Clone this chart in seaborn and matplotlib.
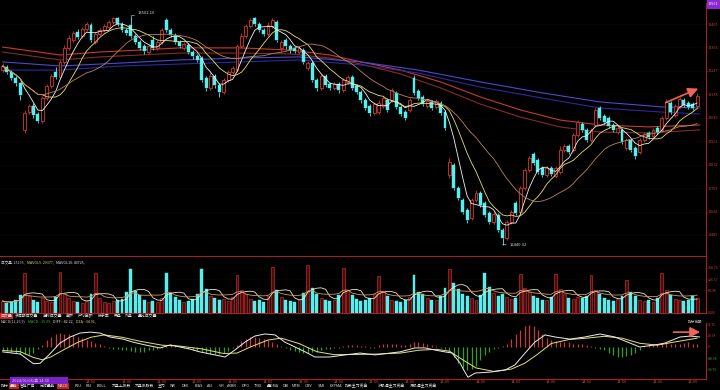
import numpy as np
import pandas as pd
import matplotlib
matplotlib.use("Agg")
import matplotlib.pyplot as plt
from matplotlib.patches import Rectangle
from matplotlib.lines import Line2D
import seaborn as sns

# ---------------- data ----------------
opens = [
    13251, 13265, 13242, 13214, 13191,
    12973, 13056, 13084, 13047, 13014, 13121, 13177, 13242,
    13219, 13289, 13354, 13391, 13428, 13409, 13442, 13460,
    13381, 13419, 13437, 13451, 13474, 13493, 13465, 13437,
    13460, 13409, 13381, 13363, 13335, 13391, 13354, 13381,
    13484, 13437, 13414, 13381, 13354, 13368, 13335, 13316,
    13307, 13214, 13168, 13224, 13182, 13149, 13205, 13242,
    13251, 13363, 13409, 13456, 13493, 13465, 13437, 13419,
    13456, 13474, 13354, 13391, 13363, 13354, 13335, 13344,
    13261, 13284, 13205, 13168, 13224, 13186, 13168, 13186,
    13158, 13196, 13219, 13177, 13149, 13112, 13084, 13052,
    13056, 13084, 13112, 13112, 13145, 13080, 13056, 13066,
    13214, 13154, 13126, 13084, 13103, 13080, 13098, 13056,
    12764, 12810, 12703, 12648, 12601, 12564, 12648, 12680,
    12634, 12587, 12545, 12578, 12508, 12471, 12545, 12634,
    12592, 12703, 12787, 12861, 12833, 12796, 12764, 12796,
    12759, 12778, 12880, 12898, 12880, 12949, 13001, 12973,
    12926, 12996, 13075, 13038, 13028, 12996, 12963, 12973,
    12889, 12926, 12889, 12871, 12926, 12959, 12945, 12982,
    12973, 13028, 13098, 13042, 13084, 13112, 13098, 13093,
    13084]
closes = [
    13270, 13242, 13214, 13191, 13135,
    13052, 13084, 13042, 13014, 13121, 13177, 13224, 13219,
    13289, 13354, 13400, 13423, 13405, 13442, 13465, 13391,
    13419, 13437, 13456, 13474, 13493, 13465, 13437, 13423,
    13409, 13381, 13354, 13340, 13363, 13354, 13381, 13437,
    13437, 13414, 13381, 13363, 13372, 13335, 13316, 13298,
    13205, 13168, 13224, 13182, 13149, 13205, 13242, 13261,
    13363, 13409, 13456, 13484, 13465, 13437, 13419, 13460,
    13484, 13391, 13381, 13363, 13344, 13340, 13354, 13289,
    13284, 13205, 13168, 13224, 13182, 13168, 13186, 13158,
    13205, 13219, 13168, 13149, 13112, 13075, 13052, 13093,
    13098, 13121, 13066, 13158, 13080, 13047, 13028, 13112,
    13145, 13121, 13093, 13107, 13075, 13107, 13052, 12982,
    12824, 12703, 12657, 12592, 12555, 12648, 12680, 12624,
    12578, 12545, 12583, 12508, 12471, 12545, 12592, 12587,
    12703, 12787, 12843, 12819, 12778, 12764, 12796, 12768,
    12796, 12880, 12898, 12871, 12949, 13010, 12973, 12926,
    12973, 13066, 13028, 13010, 12991, 12973, 12982, 12917,
    12926, 12880, 12852, 12926, 12954, 12940, 12973, 12963,
    13028, 13103, 13056, 13084, 13117, 13089, 13080, 13075,
    13131]
highs = [
    13284, 13275, 13251, 13224, 13196,
    13066, 13093, 13098, 13056, 13131, 13186, 13233, 13265,
    13298, 13368, 13414, 13433, 13442, 13451, 13474, 13470,
    13428, 13446, 13465, 13484, 13496, 13496, 13474, 13446,
    13502.16, 13419, 13391, 13372, 13372, 13409, 13391, 13446,
    13493, 13446, 13423, 13391, 13381, 13377, 13344, 13326,
    13316, 13224, 13242, 13233, 13191, 13214, 13251, 13270,
    13372, 13423, 13465, 13493, 13497, 13474, 13446, 13474,
    13493, 13484, 13391, 13400, 13372, 13363, 13363, 13354,
    13293, 13293, 13214, 13233, 13233, 13196, 13196, 13196,
    13214, 13228, 13228, 13186, 13158, 13121, 13093, 13103,
    13112, 13131, 13121, 13168, 13154, 13089, 13066, 13121,
    13228, 13163, 13135, 13117, 13112, 13117, 13107, 13066,
    12843, 12819, 12713, 12657, 12610, 12657, 12694, 12689,
    12643, 12596, 12592, 12587, 12517, 12555, 12601, 12643,
    12713, 12796, 12852, 12871, 12843, 12805, 12805, 12805,
    12805, 12898, 12908, 12908, 12959, 13019, 13010, 12982,
    12982, 13075, 13084, 13047, 13038, 13005, 12991, 12982,
    12936, 12936, 12898, 12936, 12963, 12968, 12982, 12991,
    13038, 13117, 13107, 13093, 13126, 13121, 13107, 13103,
    13145]
lows = [
    13242, 13233, 13205, 13177, 13112,
    12959, 13047, 13028, 13005, 13005, 13112, 13168, 13210,
    13210, 13279, 13344, 13381, 13395, 13400, 13433, 13381,
    13372, 13409, 13428, 13442, 13465, 13456, 13428, 13414,
    13400, 13372, 13344, 13326, 13326, 13344, 13344, 13372,
    13428, 13405, 13372, 13354, 13344, 13326, 13302, 13289,
    13196, 13154, 13158, 13168, 13126, 13140, 13196, 13233,
    13242, 13354, 13400, 13446, 13456, 13428, 13409, 13409,
    13446, 13381, 13335, 13349, 13330, 13330, 13326, 13279,
    13251, 13196, 13154, 13158, 13172, 13158, 13158, 13145,
    13149, 13186, 13158, 13140, 13098, 13066, 13038, 13042,
    13047, 13075, 13056, 13103, 13070, 13038, 13019, 13056,
    13135, 13112, 13084, 13075, 13066, 13070, 13042, 12973,
    12750, 12694, 12648, 12583, 12541, 12555, 12638, 12615,
    12569, 12536, 12536, 12499, 12440.32, 12462, 12536, 12578,
    12583, 12694, 12778, 12810, 12768, 12754, 12754, 12759,
    12750, 12768, 12871, 12861, 12871, 12940, 12963, 12917,
    12917, 12987, 13019, 13001, 12982, 12963, 12954, 12908,
    12880, 12871, 12838, 12861, 12917, 12931, 12936, 12954,
    12963, 13019, 13047, 13033, 13075, 13080, 13070, 13066,
    13075]
volumes = [
    45, 38, 42, 50, 68,
    150, 62, 48, 40, 55, 45, 42, 60,
    154, 70, 58, 45, 40, 38, 44, 72,
    150, 55, 42, 38, 45, 48, 52, 78,
    165, 82, 66, 50, 42, 46, 40, 58,
    150, 75, 60, 48, 40, 44, 52, 70,
    165, 90, 62, 55, 48, 52, 45, 60,
    142, 85, 70, 52, 45, 50, 42, 65,
    172, 88, 60, 50, 45, 42, 48, 75,
    180, 92, 70, 55, 48, 45, 50, 68,
    169, 85, 66, 52, 45, 48, 55, 72,
    139, 78, 62, 50, 45, 42, 48, 60,
    142, 80, 70, 58, 50, 48, 65, 95,
    165, 112, 90, 70, 62, 55, 50, 68,
    150, 98, 75, 62, 70, 60, 52, 58,
    146, 92, 80, 62, 55, 50, 48, 60,
    146, 90, 72, 58, 52, 60, 55, 62,
    142, 85, 70, 55, 48, 45, 52, 65,
    124, 80, 62, 50, 45, 48, 42, 55,
    150, 85, 66, 52, 48, 45, 50, 62,
    56]
macd_hist = [
    -15, -18, -20, -25, -28,
    -30, -35, -25, -10, 10, 30, 45, 55,
    60, 58, 55, 50, 45, 38, 30, 25,
    18, 12, 5, -5, -8, -10, -12, -15,
    -18, -20, -22, -20, -15, -12, -8, -5,
    8, 12, 10, 5, -5, -10, -15, -18,
    -20, -25, -28, -30, -28, -25, -18, -5,
    10, 25, 35, 42, 45, 40, 35, 28,
    20, 12, 5, -5, -12, -18, -22, -25,
    -25, -22, -20, -15, -10, -8, -5, -3,
    5, 8, 10, 8, 5, 3, -3, -5,
    8, 12, 15, 15, 12, 8, 10, 15,
    20, 22, 18, 12, 8, 5, -5, -10,
    -20, -45, -70, -90, -100, -95, -80, -55,
    -35, -20, -10, -5, 5, 15, 35, 55,
    75, 90, 95, 90, 75, 55, 40, 30,
    25, 20, 22, 20, 15, 12, 15, 10,
    5, -3, -8, -15, -25, -35, -42, -45,
    -40, -35, -25, -12, 5, 10, 12, 15,
    18, 20, 15, 12, 15, 18, 20, 15,
    12]
diff_idx = [0, 4, 7, 8.5, 10.7, 13, 15.3, 17.5, 19.8, 22, 24.3, 27.2, 29.5, 32.2, 35.6,
            37.9, 40.1, 42.4, 44.6, 48, 50.3, 52.5, 54.8, 57, 59.3, 61.6, 63.8, 66.1, 68.4,
            70.6, 74, 77.4, 80.8, 84.2, 87.6, 89.8, 93.2, 95.5, 97.7, 100, 101.6, 103.4,
            104.5, 105.2, 106.8, 110.2, 113.6, 115.8, 118.1, 120.3, 122.6, 124.9, 128.2,
            131.6, 135, 138.4, 141.8, 144, 147.5, 149.7, 153.1, 155.4, 157.6]
diff_val = [-21, -30, -72, -70, -30, 17, 43, 60, 64, 60, 43, 34, 21, 9, -4,
            9, 0, -9, -21, -34, -43, -13, 21, 47, 56, 52, 21, 0, -21,
            -43, -43, -34, -26, -34, -26, -21, -4, -4, -13, -21, -26, -69,
            -108, -130, -112, -108, -99, -77, -26, 21, 52, 43, 34,
            43, 56, 43, 17, 0, 9, 17, 43, 47, 43]
dea_idx = [0, 4, 7, 9, 11, 14, 17, 20, 23, 27, 31, 36, 40, 45, 50, 53, 56, 60, 63, 67,
           71, 75, 80, 85, 90, 94, 98, 101, 104, 107, 111, 115, 118, 121, 124, 128, 132,
           136, 140, 144, 148, 152, 157]
dea_val = [-15, -20, -45, -55, -42, -10, 20, 42, 52, 42, 25, 8, 4, -8, -28, -26, 0, 30, 38, 15,
           -20, -33, -32, -30, -26, -14, -10, -18, -55, -90, -105, -95, -70, -30, 15, 32, 38,
           46, 38, 16, 8, 22, 38]
red1_idx = [0, 13, 22, 31, 40, 54, 65, 74, 81, 90, 99, 108, 117, 126, 135, 146, 157.6]
red1_val = [13358, 13321, 13335, 13344, 13354, 13354, 13344, 13321, 13289, 13251, 13196,
            13126, 13066, 13019, 12996, 12987, 12996]
red2_idx = [0, 13, 22, 31, 40, 54, 65, 74, 81, 90, 99, 108, 117, 126, 135, 146, 157.6]
red2_val = [13335, 13298, 13312, 13321, 13330, 13330, 13326, 13307, 13279, 13233, 13168,
            13093, 13033, 12987, 12963, 12959, 12973]
blue1_idx = [0, 13, 27, 40, 54, 67, 81, 94, 108, 122, 135, 149, 157.6]
blue1_val = [13289, 13270, 13284, 13298, 13307, 13312, 13289, 13251, 13196, 13145, 13103,
             13080, 13075]
blue2_idx = [0, 13, 27, 40, 54, 67, 81, 94, 108, 122, 135, 149, 157.6]
blue2_val = [13251, 13251, 13270, 13279, 13289, 13298, 13275, 13237, 13172, 13121, 13075,
             13056, 13047]

price_ticks = [13465, 13356, 13247, 13138, 13030, 12921, 12812, 12703, 12594, 12485]
vol_ticks = [168.76, 126.57, 84.38]
vol_tick_labels = ["168.76", "126.57", "84.38"]
macd_ticks = [96.76, 48.38, 0, -48.38, -96.76]
macd_tick_labels = ["96.76", "48.38", "0", "-48.38", "-96.76"]
time_ticks = [20, 28, 36, 44, 52, 60, 68, 76, 84, 92, 100, 108, 116, 124, 132, 140, 148, 156]
time_labels = ["14:00"] * len(time_ticks)
high_label = "13502.16"
low_label = "12440.32"
top_price_label = "13562"
vol_header = [("成交量: 25193,", '#c8c8c8'), ("MAVOL5: 29377,", '#e6e070'),
              ("MAVOL10: 40725,", '#e8e8e8')]
macd_header = [("MACD(12,26,9)", '#c8c8c8'), ("MACD: -15.39,", '#30c030'),
               ("DIFF: -42.22,", '#e8e8e8'), ("DEA: -34.91,", '#e6e070')]
vol_tabs = ["成交量", "多周期成交量", "虚拟成交量", "金额", "户均金额", "换手率", "开盘", "外盘", "量比成交量"]
ind_tabs = ["指标", "量能", "智能广角", "分时量能", "MACD", "KDJ", "RSI", "BOLL", "大盘上涨数",
            "大盘涨跌数", "主力", "WR", "DMI", "BIAS", "ASI", "VR", "ARBR", "DPO", "TRIX",
            "量DMA", "DBI", "MTM", "OBV", "SAR", "EXPMA", "指数主力资金", "沪股通主力资金",
            "深股通主力资金"]
date_label = "2024/01/05/五 14:30"

# ---------------- style ----------------
sns.set_theme(style="dark", rc={"axes.facecolor": "black", "figure.facecolor": "black",
                                "axes.grid": False})
plt.rcParams['font.family'] = ['Noto Sans CJK SC', 'DejaVu Sans']
plt.rcParams['axes.unicode_minus'] = False

W, H = 720, 390
fig = plt.figure(figsize=(7.2, 3.9), dpi=100, facecolor='black')


def fx(px):
    return px / W


def fy(py):
    return 1 - py / H


def axes_px(x0, y0, x1, y1):
    return fig.add_axes([fx(x0), fy(y1), fx(x1) - fx(x0), (y1 - y0) / H])


RED = '#d8362e'
CYAN = '#58eeee'
AXRED = '#a82020'
LBL = '#c83c3c'
GRID = '#3a1414'
PITCH = 4.425
XLIM = (-2.5 / PITCH, (706 - 2.5) / PITCH)

df = pd.DataFrame({'o': opens, 'c': closes, 'h': highs, 'l': lows, 'v': volumes,
                   'm': macd_hist})
df['i'] = np.arange(len(df))
up = (df.c >= df.o).values
cols = np.where(up, RED, CYAN)

ax = axes_px(0, 3, 706, 256)
axv = axes_px(0, 257, 706, 313)
axm = axes_px(0, 323, 706, 379)

# ---------------- price panel ----------------
ax.set_ylim(13576.5 - 4.645 * 256, 13576.5 - 4.645 * 3)
for t in price_ticks:
    ax.axhline(t, color=GRID, lw=0.4, ls=(0, (1, 2)), zorder=0)

for iv, vv, cc in [(red2_idx, red2_val, '#8a2a22'), (red1_idx, red1_val, '#c83a2e'),
                   (blue2_idx, blue2_val, '#2a2aa0'), (blue1_idx, blue1_val, '#4a4ad0')]:
    sns.lineplot(x=iv, y=vv, ax=ax, color=cc, lw=0.8, estimator=None, legend=False, zorder=2)

top = np.maximum(df.o, df.c).values
bot = np.minimum(df.o, df.c).values
hgt = np.maximum(top - bot, 1.5)
ax.vlines(df.i, df.l, bot, colors=cols, lw=0.6, zorder=3)
ax.vlines(df.i, top, df.h, colors=cols, lw=0.6, zorder=3)
ax.bar(df.i[up], hgt[up], bottom=bot[up], width=0.66, facecolor='black',
       edgecolor=RED, lw=0.6, zorder=4)
ax.bar(df.i[~up], hgt[~up], bottom=bot[~up], width=0.66, facecolor=CYAN,
       edgecolor=CYAN, lw=0.3, zorder=4)

for w, cc in [(5, '#f2f2f2'), (10, '#e6e070'), (20, '#b8845a')]:
    ma = df.c.rolling(w, min_periods=1).mean()
    sns.lineplot(x=df.i, y=ma, ax=ax, color=cc, lw=0.6, estimator=None, legend=False, zorder=5)

ax.annotate(high_label, xy=(29, 13502.16), xytext=(30.6, 13517), fontsize=3.0,
            color='#d8d8d8', va='center', ha='left',
            arrowprops=dict(arrowstyle='-', color='#d8d8d8', lw=0.4, shrinkA=0, shrinkB=0))
ax.annotate(low_label, xy=(113, 12440.32), xytext=(114.6, 12437), fontsize=3.0,
            color='#d8d8d8', va='center', ha='left',
            arrowprops=dict(arrowstyle='-', color='#d8d8d8', lw=0.4, shrinkA=0, shrinkB=0))
ax.annotate('', xy=(157.8, 13170), xytext=(149.3, 13095),
            arrowprops=dict(arrowstyle='-|>,head_length=0.5,head_width=0.25',
                            color='#f0645a', lw=1.2), zorder=8)

# ---------------- volume panel ----------------
axv.set_ylim(0, 210)
for t in vol_ticks:
    axv.axhline(t, color=GRID, lw=0.4, ls=(0, (1, 2)), zorder=0)
axv.bar(df.i[up], df.v[up], width=0.66, facecolor='#4a0c0c', edgecolor='#b02626',
        lw=0.55, zorder=3)
axv.bar(df.i[~up], df.v[~up], width=0.66, facecolor=CYAN, edgecolor=CYAN, lw=0.3, zorder=3)
for w, cc in [(5, '#e8e8d0'), (10, '#d89858')]:
    mv = df.v.rolling(w, min_periods=1).mean()
    sns.lineplot(x=df.i, y=mv, ax=axv, color=cc, lw=0.6, estimator=None, legend=False, zorder=4)

# ---------------- MACD panel ----------------
axm.set_ylim(-(379 - 347) * 4.3, (347 - 323) * 4.3)
hcols = np.where(df.m >= 0, '#c83c3c', '#2ea02e')
axm.vlines(df.i, 0, df.m, colors=hcols, lw=0.9, zorder=2)
sns.lineplot(x=dea_idx, y=dea_val, ax=axm, color='#e6e070', lw=0.7, estimator=None,
             legend=False, zorder=3)
sns.lineplot(x=diff_idx, y=diff_val, ax=axm, color='#ececec', lw=0.7, estimator=None,
             legend=False, zorder=4)
axm.annotate('', xy=(158.3, 64), xytext=(151.0, 64),
             arrowprops=dict(arrowstyle='-|>,head_length=0.5,head_width=0.25',
                             color='#f0645a', lw=1.2), zorder=8)

# ---------------- axes chrome ----------------
for a in (ax, axv, axm):
    a.set_facecolor('black')
    a.set_xlim(*XLIM)
    for s in ('top', 'left'):
        a.spines[s].set_visible(False)
    a.spines['right'].set_color(AXRED)
    a.spines['right'].set_linewidth(0.8)
    a.spines['bottom'].set_color(AXRED)
    a.spines['bottom'].set_linewidth(0.8)
    a.yaxis.tick_right()
    a.tick_params(axis='y', length=0.8, width=0.5, color=AXRED, labelsize=2.7,
                  labelcolor=LBL, pad=0.6)
    a.tick_params(axis='x', length=0)
    a.set_xlabel('')
    a.set_ylabel('')

ax.set_yticks(price_ticks)
ax.set_yticklabels([str(t) for t in price_ticks])
ax.set_xticks([])
axv.set_yticks(vol_ticks + [0])
axv.set_yticklabels(vol_tick_labels + ["X100"])
axv.tick_params(axis='y', labelsize=2.5)
axv.set_xticks([])
axm.set_yticks(macd_ticks)
axm.set_yticklabels(macd_tick_labels)
axm.tick_params(axis='y', labelsize=2.4)
for lab, v in zip(axm.get_yticklabels(), macd_ticks):
    lab.set_color('#2ea82e' if v < 0 else LBL)
axm.set_xticks(time_ticks)
axm.set_xticklabels(time_labels)
axm.tick_params(axis='x', labelsize=3.0, labelcolor=LBL, pad=0.8)

# ---------------- texts ----------------
fig.canvas.draw()
renderer = fig.canvas.get_renderer()


def chain(items, x0, ypx, fs, gap):
    xpos = x0
    for s, c in items:
        t = fig.text(fx(xpos), fy(ypx), s, fontsize=fs, color=c, va='center', ha='left')
        bb = t.get_window_extent(renderer=renderer)
        xpos += bb.width + gap


chain(vol_header, 1, 262, 2.6, 2)
chain(macd_header, 1, 321.5, 2.6, 2)

tab_x = [1, 15, 43, 66, 78, 98, 114, 125, 138]
for k, (s, x0) in enumerate(zip(vol_tabs, tab_x)):
    kw = dict(fontsize=2.8, color='#e0e0e0', va='center', ha='left')
    if k == 0:
        kw['bbox'] = dict(boxstyle='square,pad=0.2', fc='#c42020', ec='none')
    fig.text(fx(x0), fy(316), s, **kw)

ind_x = [0.5, 10, 20, 40, 58, 75, 86, 97, 112, 135, 158, 170, 182, 195, 207, 219, 227, 242,
         254, 267, 283, 292, 305, 318, 330, 345, 378, 410]
for s, x0 in zip(ind_tabs, ind_x):
    kw = dict(fontsize=2.8, color='#e0e0e0', va='center', ha='left')
    if s in ("MACD", "量能"):
        kw['bbox'] = dict(boxstyle='square,pad=0.2', fc='#c42020', ec='none')
    fig.text(fx(x0), fy(386), s, **kw)
fig.add_artist(Line2D([0, fx(436)], [fy(389.5), fy(389.5)], color='#801818', lw=0.6))

# purple date box at bottom-left, purple price box at top-right
fig.add_artist(Rectangle((fx(10), fy(383.5)), fx(58), 6.5 / H, transform=fig.transFigure,
                         fc='#7a22c8', ec='none', zorder=10))
fig.text(fx(12), fy(380.3), date_label, fontsize=2.8, color='#e8c8ff', va='center',
         ha='left', zorder=11)
fig.add_artist(Rectangle((fx(707), fy(8.5)), fx(13), 8.5 / H, transform=fig.transFigure,
                         fc='#8a2ad0', ec='none', zorder=10))
fig.text(fx(708), fy(4.3), top_price_label, fontsize=2.7, color='#f4e0ff', va='center',
         ha='left', zorder=11)
fig.text(fx(688), fy(322), "指标说明", fontsize=2.6, color='#c8c8c8', va='center', ha='left')

fig.savefig('out.png', dpi=100, facecolor='black')
